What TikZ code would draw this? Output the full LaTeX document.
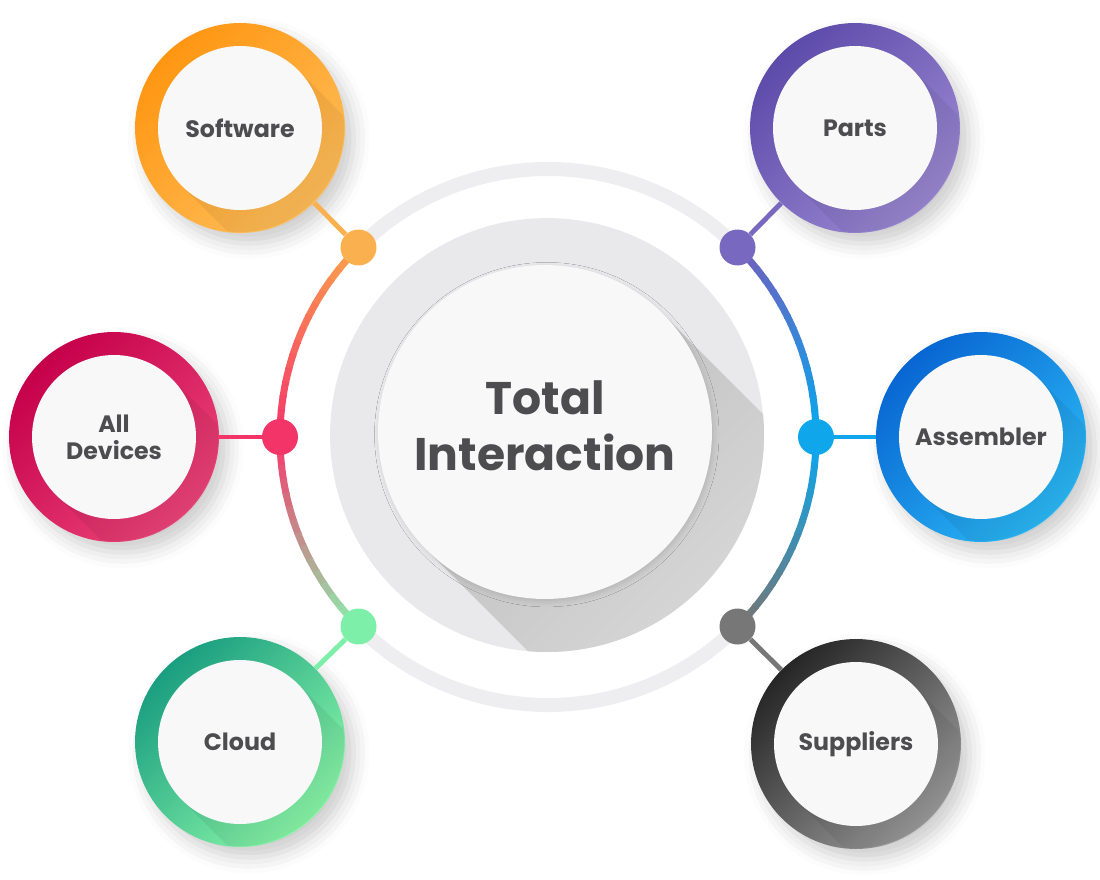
\documentclass[tikz,border=0pt]{standalone}
\usepackage{fontspec}
\setmainfont{Poppins}
\usetikzlibrary{shadows.blur}

\definecolor{labelgray}{HTML}{4D4D4F}
\definecolor{facewhite}{HTML}{F8F8F9}
\definecolor{discgray}{HTML}{E9E9EB}
\definecolor{trackgray}{HTML}{EEEEF0}
\definecolor{swA}{HTML}{FF9612}
\definecolor{swB}{HTML}{FFBE5A}
\definecolor{swD}{HTML}{FBB050}
\definecolor{ptA}{HTML}{5D4BAA}
\definecolor{ptB}{HTML}{9B88D2}
\definecolor{ptD}{HTML}{7868BF}
\definecolor{adA}{HTML}{C5004A}
\definecolor{adB}{HTML}{EC4479}
\definecolor{adD}{HTML}{F23468}
\definecolor{asA}{HTML}{0866D2}
\definecolor{asB}{HTML}{2BB9F6}
\definecolor{asD}{HTML}{0FA6EC}
\definecolor{clA}{HTML}{1A9E80}
\definecolor{clB}{HTML}{8AF7A8}
\definecolor{clD}{HTML}{7DEFA8}
\definecolor{suA}{HTML}{262626}
\definecolor{suB}{HTML}{9A9A9A}
\definecolor{suD}{HTML}{777777}
\definecolor{arcO}{HTML}{FBA04A}
\definecolor{arcP}{HTML}{F43A6C}
\definecolor{arcG}{HTML}{8EE9AC}
\definecolor{arcV}{HTML}{6F5FBE}
\definecolor{arcB}{HTML}{0AA7EE}
\definecolor{arcK}{HTML}{757575}

\begin{document}
\begin{tikzpicture}[x=0.02cm,y=-0.02cm,
    ring/.style={circle,inner sep=0pt,minimum size=4.2cm,
      blur shadow={shadow xshift=5pt,shadow yshift=-6pt,shadow blur radius=9pt,shadow opacity=20}},
    face/.style={circle,inner sep=0pt,minimum size=3.28cm,fill=facewhite,align=center,
      text=labelgray,font=\fontsize{13.5}{15.5}\selectfont\bfseries},
    dot/.style={circle,inner sep=0pt,minimum size=0.72cm},
    link/.style={line width=2.8pt},
    arcline/.style={line width=4pt},
    track/.style={line width=8pt,trackgray}]
  \useasboundingbox (0,0) rectangle (1100,880);
  \coordinate (O) at (548,437);

  \draw[track] ([shift={(225:268)}]O) arc[start angle=225,end angle=315,radius=268];
  \draw[track] ([shift={(45:268)}]O) arc[start angle=45,end angle=135,radius=268];
  \foreach \i in {0,...,14}
  {
    \pgfmathtruncatemacro\p{100-100*\i/14}
    \draw[arcline,arcO!\p!arcP] ([shift={(225-3*\i:268)}]O) arc[start angle=225-3*\i,end angle=221.5-3*\i,radius=268];
    \draw[arcline,arcP!\p!arcG] ([shift={(180-3*\i:268)}]O) arc[start angle=180-3*\i,end angle=176.5-3*\i,radius=268];
    \draw[arcline,arcV!\p!arcB] ([shift={(315+3*\i:268)}]O) arc[start angle=315+3*\i,end angle=318.5+3*\i,radius=268];
    \draw[arcline,arcB!\p!arcK] ([shift={(3*\i:268)}]O) arc[start angle=3*\i,end angle=3.5+3*\i,radius=268];
  }

  \node[circle,inner sep=0pt,minimum size=8.68cm,fill=discgray] (disc) at (547,435) {};
  \begin{scope}
    \clip (547,435) circle (217);
    \shade[top color=black!25,bottom color=discgray,shading angle=45]
      (663,314) -- (963,614) -- (727,850) -- (427,550) -- cycle;
  \end{scope}
  \node[circle,inner sep=0pt,minimum size=6.68cm,fill=facewhite,
    blur shadow={shadow xshift=1pt,shadow yshift=-1.5pt,shadow blur radius=3pt,shadow opacity=12}] (core) at (545,432) {};
  \node[align=center,text=labelgray,font=\fontsize{26}{32}\selectfont\bfseries] (title) at (545,426) {Total\\Interaction};

  \foreach \n/\x/\y/\ca/\cb/\cd/\a/\t in {
    sw/240/128/swA/swB/swD/225/Software,
    pt/855/128/ptA/ptB/ptD/315/Parts,
    ad/114/437/adA/adB/adD/180/{All\\Devices},
    as/981/437/asA/asB/asD/0/Assembler,
    cl/240/742/clA/clB/clD/135/Cloud,
    su/856/744/suA/suB/suD/45/Suppliers}
  {
    \node[ring,top color=\ca,bottom color=\cb,shading angle=45] (\n) at (\x,\y) {};
    \begin{scope}
      \clip (\x,\y) circle (104);
      \fill[black,opacity=.06] (\x+58,\y-58) -- (\x+358,\y+242) -- (\x+242,\y+358) -- (\x-58,\y+58) -- cycle;
    \end{scope}
    \node[face] (\n-face) at (\x,\y) {\t};
    \node[dot,fill=\cd] (\n-dot) at ([shift={(\a:268)}]O) {};
    \draw[link,\cd] (\n-dot) -- (\n);
  }
\end{tikzpicture}
\end{document}
